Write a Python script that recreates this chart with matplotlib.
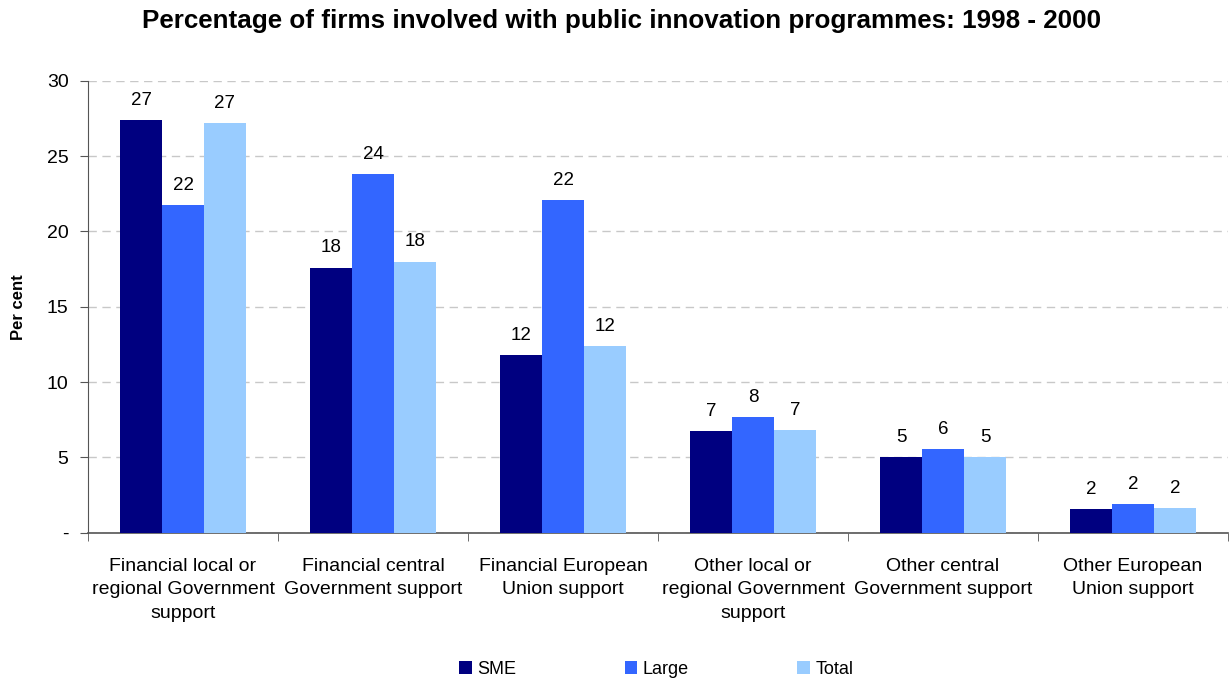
import numpy as np
import matplotlib.pyplot as plt

plt.rcParams['font.family'] = ['Liberation Sans', 'DejaVu Sans']

categories = [
    "Financial local or\nregional Government\nsupport",
    "Financial central\nGovernment support",
    "Financial European\nUnion support",
    "Other local or\nregional Government\nsupport",
    "Other central\nGovernment support",
    "Other European\nUnion support",
]
sme = [27.4, 17.6, 11.8, 6.75, 5.0, 1.57]
large = [21.75, 23.8, 22.1, 7.68, 5.55, 1.9]
total = [27.2, 18.0, 12.4, 6.8, 5.0, 1.64]
series_names = ["SME", "Large", "Total"]
colors = ["#000080", "#3366FF", "#99CCFF"]

fig = plt.figure(figsize=(12.29, 6.81), dpi=100)
ax = fig.add_axes([88 / 1229, 1 - 532.7 / 681, 1140 / 1229, 452 / 681])

x = np.arange(len(categories))
w = 0.221
for i, (vals, name, c) in enumerate(zip([sme, large, total], series_names, colors)):
    bars = ax.bar(x + (i - 1) * w, vals, width=w, color=c, label=name, zorder=3)
    for b, v in zip(bars, vals):
        ax.annotate(f"{v:.0f}", (b.get_x() + b.get_width() / 2, v),
                    xytext=(0, 8), textcoords="offset points",
                    ha="center", va="bottom", fontsize=13.5)

ax.set_xlim(-0.5, len(categories) - 0.5)
ax.set_ylim(0, 30)
ax.set_yticks([0, 5, 10, 15, 20, 25, 30])
ax.set_yticklabels(["-", "5", "10", "15", "20", "25", "30"], fontsize=14)
ax.yaxis.grid(True, linestyle=(0, (6, 4)), color="#c8c8c8", linewidth=1, zorder=0)

# category names at the centres, tick marks at the boundaries
ax.set_xticks(x)
ax.set_xticklabels(categories, fontsize=14, linespacing=1.5)
ax.tick_params(axis="x", which="major", length=0, pad=18)
ax.set_xticks(np.arange(-0.5, len(categories) + 0.5, 1), minor=True)
ax.tick_params(axis="x", which="minor", length=6, color="#555555")
ax.tick_params(axis="y", length=6, color="#555555", pad=8)

for s in ["top", "right"]:
    ax.spines[s].set_visible(False)
ax.spines["left"].set_color("#555555")
ax.spines["bottom"].set_color("#555555")
ax.spines["bottom"].set_linewidth(1.2)

ax.set_ylabel("Per cent", fontsize=12, fontweight="bold")
ax.yaxis.set_label_coords(-62 / 1140, 0.5)

fig.suptitle("Percentage of firms involved with public innovation programmes: 1998 - 2000",
             fontsize=18.7, fontweight="bold", x=622 / 1229, y=1 - 21 / 681, va="center")

fig.legend(loc="center", bbox_to_anchor=(0.534, 1 - 669 / 681), ncol=3, frameon=False,
           fontsize=13, handlelength=0.7, handleheight=0.7, handletextpad=0.3,
           columnspacing=6.0)

fig.savefig("out.png", dpi=100)
